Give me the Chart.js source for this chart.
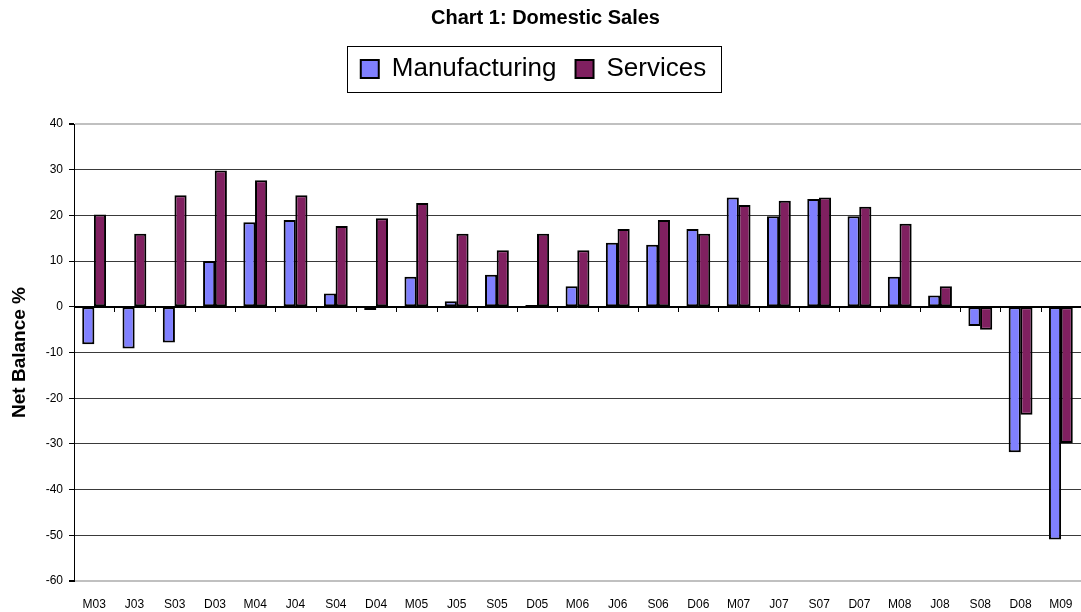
<!DOCTYPE html>
<html lang="en">
<head>
    <meta charset="UTF-8">
    <title>Chart 1: Domestic Sales</title>
    <style>
        body {
            margin: 0;
            background: #fff;
        }
        canvas {
            display: block;
        }
    </style>
</head>
<body>
    <canvas id="salesChart" width="1081" height="612"></canvas>
    <script src="https://cdn.jsdelivr.net/npm/chart.js"></script>
    <script>
        // quarters, March 2003 to March 2009
        const quarters = ['M03', 'J03', 'S03', 'D03', 'M04', 'J04', 'S04', 'D04', 'M05', 'J05', 'S05', 'D05',
                          'M06', 'J06', 'S06', 'D06', 'M07', 'J07', 'S07', 'D07', 'M08', 'J08', 'S08', 'D08', 'M09'];
        const manufacturing = [-8.2, -9.1, -7.8, 10, 18.5, 19, 2.9, -0.7, 6.6, 1.2, 7, 0.4,
                               4.5, 14, 13.6, 17, 23.9, 19.8, 23.6, 19.8, 6.6, 2.5, -4.2, -31.8, -50.9];
        const services = [20.2, 16, 24.4, 29.8, 27.7, 24.4, 17.7, 19.4, 22.7, 16, 12.4, 16,
                          12.4, 17, 19, 16, 22.3, 23.2, 23.9, 21.9, 18.2, 4.5, -5, -23.6, -29.8];
        const yTicks = { min: -60, max: 40, step: 10 };

        const fontFamily = "'Liberation Sans', Arial, sans-serif";
        const legendShift = -12; // legend sits a little left of centre

        // box round the legend, and the zero line with its little ticks
        const extras = {
            id: 'extras',
            afterUpdate(chart) {
                const legend = chart.legend;
                legend.left += legendShift;
                legend.right += legendShift;
                legend.legendHitBoxes.forEach(b => { b.left += legendShift; });
            },
            beforeDatasetsDraw(chart) {
                const ctx = chart.ctx;
                const x = chart.scales.x;
                const y0 = Math.round(chart.scales.y.getPixelForValue(0));
                const area = chart.chartArea;
                ctx.save();
                ctx.strokeStyle = '#000';
                ctx.lineWidth = 1;
                ctx.beginPath();
                ctx.moveTo(area.left, y0 + 0.5);
                ctx.lineTo(area.right, y0 + 0.5);
                for (let i = 1; i < quarters.length; i++) {
                    const bx = Math.round((x.getPixelForTick(i - 1) + x.getPixelForTick(i)) / 2) + 0.5;
                    ctx.moveTo(bx, y0);
                    ctx.lineTo(bx, y0 + 5);
                }
                ctx.stroke();
                ctx.restore();
            },
            afterDraw(chart) {
                const boxes = chart.legend.legendHitBoxes;
                if (!boxes || !boxes.length) return;
                const left = Math.min(...boxes.map(b => b.left)) - 14;
                const right = Math.max(...boxes.map(b => b.left + b.width)) + 15;
                const mid = boxes[0].top + boxes[0].height / 2;
                const ctx = chart.ctx;
                ctx.save();
                ctx.strokeStyle = '#000';
                ctx.lineWidth = 1;
                ctx.strokeRect(Math.round(left) + 0.5, Math.round(mid - 23) + 0.5, Math.round(right - left), 46);
                ctx.restore();
            }
        };

        const ctx = document.getElementById('salesChart').getContext('2d');
        new Chart(ctx, {
            type: 'bar',
            data: {
                labels: quarters,
                datasets: [{
                    label: 'Manufacturing',
                    data: manufacturing,
                    backgroundColor: '#8080ff',
                    borderColor: '#000',
                    borderWidth: 2,
                    borderSkipped: false
                }, {
                    label: 'Services',
                    data: services,
                    backgroundColor: '#802060',
                    borderColor: '#000',
                    borderWidth: 2,
                    borderSkipped: false
                }]
            },
            plugins: [extras],
            options: {
                responsive: false,
                animation: false,
                devicePixelRatio: 1,
                datasets: {
                    bar: { categoryPercentage: 0.58, barPercentage: 1.04 }
                },
                layout: { padding: { left: 0, right: -10, top: 0, bottom: 0 } },
                plugins: {
                    tooltip: { enabled: false },
                    title: {
                        display: true,
                        text: 'Chart 1: Domestic Sales',
                        color: '#000',
                        font: { family: fontFamily, size: 20, weight: 'bold' },
                        padding: { top: 6, bottom: 7 }
                    },
                    legend: {
                        display: true,
                        labels: {
                            color: '#000',
                            font: { family: fontFamily, size: 26 },
                            boxWidth: 18,
                            boxHeight: 18,
                            padding: 19
                        }
                    }
                },
                scales: {
                    x: {
                        grid: { display: false, drawTicks: true, tickLength: 14 },
                        border: { display: false },
                        ticks: {
                            color: '#000',
                            font: { family: fontFamily, size: 12 },
                            padding: 2,
                            autoSkip: false,
                            maxRotation: 0
                        },
                        afterFit(scale) { scale.height = 31; }
                    },
                    // empty axis that only keeps the gap under the legend
                    xTop: {
                        type: 'category',
                        position: 'top',
                        grid: { display: false, drawTicks: false },
                        border: { display: false },
                        ticks: { display: false },
                        afterFit(scale) { scale.height = 32; }
                    },
                    y: {
                        min: yTicks.min,
                        max: yTicks.max,
                        ticks: {
                            stepSize: yTicks.step,
                            color: '#000',
                            font: { family: fontFamily, size: 12 },
                            padding: 6
                        },
                        grid: {
                            color: c => {
                                const v = c.tick ? c.tick.value : null;
                                if (v === 0) return '#000';
                                if (v === yTicks.max || v === yTicks.min) return '#c0c0c0';
                                return '#3a3a3a';
                            },
                            lineWidth: c => (c.tick && (c.tick.value === yTicks.max || c.tick.value === yTicks.min)) ? 2 : 1,
                            tickColor: '#000',
                            tickLength: 5
                        },
                        border: { color: '#000', width: 1 },
                        title: {
                            display: true,
                            text: 'Net Balance %',
                            color: '#000',
                            font: { family: fontFamily, size: 19, weight: 'bold' },
                            padding: { top: 8, bottom: 0 }
                        },
                        afterFit(scale) { scale.width = 74; }
                    }
                }
            }
        });
    </script>
</body>
</html>
